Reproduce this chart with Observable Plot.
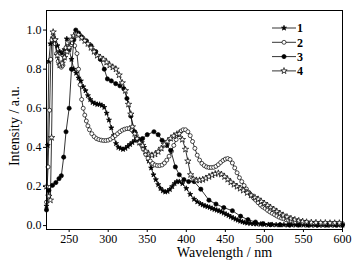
<!DOCTYPE html>
<html><head><meta charset="utf-8">
<script src="https://cdn.jsdelivr.net/npm/d3@7"></script>
<script src="https://cdn.jsdelivr.net/npm/@observablehq/plot@0.6"></script>
<style>body{margin:0;background:#fff}</style>
</head><body><div id="c"></div>
<script>
// Series 1 (filled star)
const wl1 = [221,222.5,224,226,229,232,235,238,241,244,247,250,253,256,259,262,265,268,271,274,277,280,283,286,289,292,295,298,301,304,307,310,313,316,319,322,325,328,331,334,337,340,343,346,349,352,355,358,361,364,367,370,373,376,379,382,385,388,391,395,400,405,410,414,418,421,424,427,430,433,436,439,442,445,448,451,454,457,460,463,466,469,472,475,478,482,486,490,495,500,505,510,515,520,525,530,535,540,545,550,555,560,565,570,575,580,585,590,595,600];
const int1 = [0.10,0.41,0.84,0.93,0.96,0.95,0.92,0.89,0.88,0.90,0.955,0.90,0.85,0.80,0.78,0.755,0.74,0.71,0.69,0.665,0.645,0.63,0.625,0.62,0.62,0.615,0.605,0.575,0.54,0.50,0.46,0.42,0.40,0.395,0.39,0.395,0.405,0.415,0.425,0.435,0.44,0.44,0.425,0.40,0.365,0.33,0.295,0.26,0.235,0.21,0.19,0.178,0.172,0.175,0.185,0.20,0.215,0.225,0.225,0.215,0.19,0.16,0.135,0.122,0.112,0.106,0.101,0.097,0.093,0.088,0.083,0.079,0.075,0.07,0.064,0.058,0.052,0.045,0.039,0.033,0.028,0.023,0.019,0.016,0.013,0.011,0.009,0.008,0.007,0.006,0.005,0.005,0.004,0.004,0.004,0.003,0.003,0.003,0.003,0.003,0.002,0.002,0.002,0.002,0.002,0.002,0.002,0.002,0.002,0.002];
// Series 2 (open circle)
const wl2 = [221,223,225,226.5,228,230,232,234,236,238,240,242,244,246,248,251,254,257,260,262,264,266,268,270,272,274,276,279,282,285,288,291,294,297,300,303,306,309,312,315,318,321,324,327,330,333,336,339,342,345,348,351,354,357,360,363,366,369,372,375,378,381,384,387,390,393,396,399,402,405,408,411,414,417,420,423,426,429,432,435,438,441,444,447,450,453,456,459,462,465,468,471,474,477,480,483,486,489,492,495,498,501,504,507,510,513,516,519,522,525,528,531,534,537,540,544,548,552,556,560,564,568,572,576,580,584,588,592,596,600];
const int2 = [0.12,0.30,0.59,0.85,0.95,0.965,0.93,0.88,0.84,0.82,0.81,0.82,0.86,0.91,0.935,0.94,0.935,0.92,0.88,0.80,0.72,0.645,0.60,0.565,0.535,0.51,0.49,0.47,0.455,0.445,0.44,0.437,0.435,0.435,0.437,0.442,0.45,0.46,0.47,0.48,0.488,0.493,0.496,0.496,0.49,0.478,0.46,0.44,0.415,0.39,0.365,0.345,0.33,0.318,0.31,0.307,0.307,0.31,0.32,0.335,0.355,0.38,0.41,0.44,0.465,0.483,0.49,0.49,0.48,0.46,0.43,0.395,0.36,0.335,0.318,0.307,0.30,0.297,0.297,0.298,0.303,0.312,0.323,0.333,0.34,0.343,0.338,0.32,0.295,0.27,0.245,0.225,0.205,0.187,0.17,0.155,0.142,0.13,0.117,0.105,0.095,0.088,0.078,0.07,0.063,0.056,0.049,0.043,0.038,0.034,0.030,0.027,0.024,0.021,0.019,0.017,0.015,0.014,0.013,0.012,0.012,0.011,0.011,0.010,0.010,0.010,0.010,0.010,0.010,0.010];
// Series 3 (filled circle)
const wl3 = [221,224,228.7,233,237,240,243,246,250,253,256,258.5,262,266,272,278,284,290,295,299,304,309.6,315,320,324,329,334,339,344,350,358.6,364,369,375,380,386,391,397,403,410,418.6,429,438,448,459,469.5,479,488.6,498,508,520,532,544,556,568,580,592,600];
const int3 = [0.08,0.18,0.206,0.22,0.24,0.255,0.35,0.48,0.60,0.80,0.95,1.0,0.985,0.965,0.945,0.92,0.89,0.85,0.80,0.75,0.74,0.726,0.715,0.70,0.65,0.56,0.48,0.436,0.445,0.465,0.48,0.465,0.436,0.41,0.385,0.30,0.26,0.235,0.225,0.225,0.186,0.13,0.11,0.092,0.076,0.048,0.03,0.018,0.01,0.005,0.004,0.003,0.003,0.003,0.003,0.003,0.003,0.003];
// Series 4 (open star)
const wl4 = [221,224,226,227.5,229.5,232,235,238,241,244,247,250,253,256,259,262,266,270,274,278,282,286,290,294,298,302,306,310,314,318,322,326,329,331,334,337,340,344,348,352,356,360,364,368,372,376,380,384,388,391,395,399,402,405.5,409,413,417,421,425,429,433,437,441,445,449,453,457,461,465,469,473,478,483,488,492,496,500,504,508,512,516,520,524,529,534,539,544,549,554,560,566,572,578,584,590,596];
const int4 = [0.20,0.15,0.13,0.45,0.99,0.95,0.87,0.82,0.83,0.86,0.89,0.91,0.95,0.97,0.98,0.975,0.96,0.945,0.93,0.91,0.89,0.87,0.86,0.85,0.835,0.82,0.81,0.80,0.77,0.73,0.69,0.62,0.57,0.505,0.47,0.445,0.425,0.41,0.38,0.365,0.36,0.365,0.378,0.395,0.415,0.43,0.445,0.458,0.468,0.47,0.44,0.39,0.33,0.26,0.238,0.232,0.232,0.235,0.242,0.25,0.258,0.265,0.268,0.262,0.25,0.236,0.222,0.21,0.20,0.19,0.18,0.168,0.155,0.143,0.135,0.123,0.113,0.103,0.092,0.083,0.072,0.062,0.053,0.044,0.036,0.030,0.025,0.021,0.018,0.016,0.015,0.014,0.014,0.013,0.013,0.013];

const seriesNames = ["1","2","3","4"];
const xTicks = [250,300,350,400,450,500,550,600];
const yTicks = [0.0,0.2,0.4,0.6,0.8,1.0];

const rows = (wl, v, s) => wl.map((x, i) => ({x, y: v[i], s}));
const data = [rows(wl1,int1,"1"), rows(wl2,int2,"2"), rows(wl3,int3,"3"), rows(wl4,int4,"4")];

const styles = {
  "1": {symbol: "star", fill: "black", r: 1.6},
  "2": {symbol: "circle", fill: "white", r: 2.0},
  "3": {symbol: "circle", fill: "black", r: 2.1},
  "4": {symbol: "star", fill: "white", r: 2.0}
};

const font = "'Liberation Serif', 'Times New Roman', serif";
const W = 363, H = 264, mL = 46, mR = 21, mT = 10, mB = 35;

const marks = [
  Plot.axisX({ticks: xTicks, tickSize: 3, tickPadding: 2, label: null, fontSize: 12}),
  Plot.axisY({ticks: yTicks, tickSize: 3, tickPadding: 2, tickFormat: d3.format(".1f"), label: null, fontSize: 12}),
];
data.forEach((d, i) => {
  const st = styles[seriesNames[i]];
  marks.push(Plot.line(d, {x: "x", y: "y", stroke: "black", strokeWidth: 0.8}));
  marks.push(Plot.dot(d, {x: "x", y: "y", symbol: st.symbol, fill: st.fill, r: st.r, stroke: "black", strokeWidth: 0.7}));
});
marks.push(Plot.frame({stroke: "black", strokeWidth: 1}));
marks.push(Plot.text(["Wavelength / nm"], {frameAnchor: "bottom", lineAnchor: "middle", textAnchor: "middle", dy: 23, dx: 30, fontSize: 14, letterSpacing: "1.5px"}));
marks.push(Plot.text(["Intensity / a.u."], {frameAnchor: "left", lineAnchor: "middle", textAnchor: "middle", rotate: -90, dx: -32, dy: 6, fontSize: 14}));

const chart = Plot.plot({
  width: W, height: H, marginLeft: mL, marginRight: mR, marginTop: mT, marginBottom: mB,
  style: {fontFamily: font, fontSize: "12px", background: "white", color: "black"},
  x: {domain: [221, 600]},
  y: {domain: [-0.02, 1.1]},
  marks
});

// Legend
const svg = d3.select(chart);
const right = W - mR;
const g = svg.append("g").attr("font-family", font);
seriesNames.forEach((name, i) => {
  const st = styles[name];
  const y = 28 + i * 14.3;
  g.append("line").attr("x1", right - 70).attr("x2", right - 46).attr("y1", y).attr("y2", y)
    .attr("stroke", "black").attr("stroke-width", 0.8);
  const sym = st.symbol === "star" ? d3.symbolStar : d3.symbolCircle;
  g.append("path").attr("d", d3.symbol().type(sym).size(st.r * st.r * Math.PI)())
    .attr("transform", `translate(${right - 58},${y})`)
    .attr("fill", st.fill).attr("stroke", "black").attr("stroke-width", 0.7);
  g.append("text").attr("x", right - 42).attr("y", y).attr("dy", "0.35em")
    .attr("font-size", 12).attr("font-weight", "bold").text(name);
});

document.getElementById("c").appendChild(chart);
</script>
</body></html>
